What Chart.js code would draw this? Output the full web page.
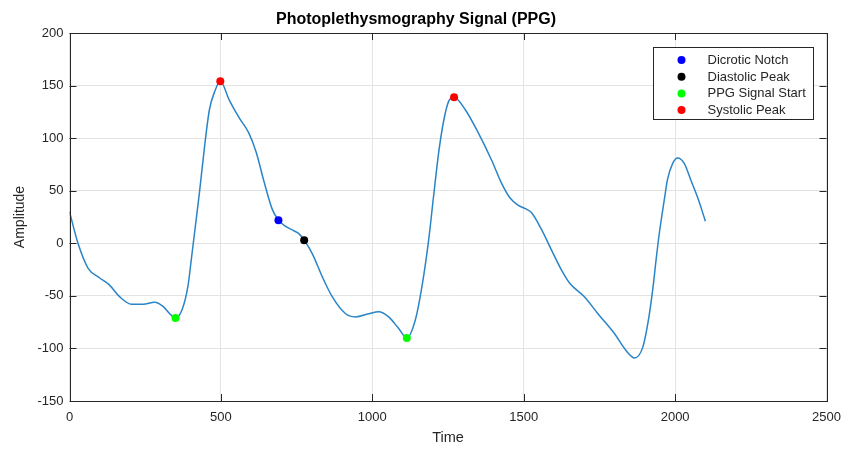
<!DOCTYPE html>
<html>
<head>
<meta charset="utf-8">
<title>PPG</title>
<script src="https://cdn.jsdelivr.net/npm/chart.js@4/dist/chart.umd.min.js"></script>
<style>
  body { margin: 0; background: #fff; }
  #wrap { width: 850px; height: 452px; }
</style>
</head>
<body>
<div id="wrap"><canvas id="ppg"></canvas></div>
<script>
// 信号数据
const signalTime = [0, 28, 62, 100, 133, 166, 205, 243, 281, 309, 331, 350, 372, 391, 402, 429, 446, 462, 479, 498,
    528, 561, 592, 616, 643, 670, 690, 714, 740, 758, 775, 802, 835, 868, 912, 945, 988, 1021, 1054, 1087, 1114,
    1142, 1164, 1186, 1202, 1219, 1236, 1252, 1270, 1307, 1350, 1394, 1427, 1455, 1482, 1505, 1526, 1559, 1591,
    1624, 1652, 1701, 1745, 1800, 1838, 1866, 1893, 1910, 1926, 1937, 1948, 1964, 1975, 1992, 2008, 2030, 2052, 2075, 2100];
const signalAmp = [30, 0, -24, -33, -40, -51, -58, -58, -56, -60, -67, -71, -63, -41, -16, 48, 92, 127, 144, 154,
    136, 119, 105, 87, 58, 32, 22, 16, 12, 9, 3, -10, -32, -51, -67, -70, -67, -65, -70, -81, -90,
    -73, -41, 3, 44, 86, 117, 135, 139, 127, 105, 79, 57, 43, 36, 33, 29, 13, -6,
    -25, -38, -51, -67, -86, -102, -109, -99, -76, -44, -16, 10, 41, 61, 76, 81, 76, 60, 43, 21];

// 特征点
const notchTime = [690];
const notchAmp = [22];
const diastolicTime = [775];
const diastolicAmp = [3];
const startTime = [350, 1114];
const startAmp = [-71, -90];
const systolicTime = [498, 1270];
const systolicAmp = [154, 139];

// 坐标轴范围
const xRange = [0, 2500, 500];
const yRange = [-150, 200, 50];

const FONT = '"Liberation Sans", Arial, Helvetica, sans-serif';
const INK = '#262626';

function toPoints(xs, ys) {
    return xs.map((x, i) => ({ x: x, y: ys[i] }));
}

function markerSet(label, xs, ys, color) {
    return {
        label: label,
        data: toPoints(xs, ys),
        showLine: false,
        pointRadius: 4,
        pointHoverRadius: 4,
        pointBackgroundColor: color,
        pointBorderColor: color,
        pointBorderWidth: 0,
        backgroundColor: color,
        borderColor: color
    };
}

// 边框、内向刻度、图例
const matlabAxes = {
    id: 'matlabAxes',
    afterDraw(chart) {
        const { ctx, chartArea: a, scales: { x, y } } = chart;
        ctx.save();
        ctx.strokeStyle = INK;
        ctx.lineWidth = 1;
        ctx.beginPath();
        x.ticks.forEach(t => {
            const px = Math.round(x.getPixelForValue(t.value)) + 0.5;
            ctx.moveTo(px, a.bottom); ctx.lineTo(px, a.bottom - 7);
            ctx.moveTo(px, a.top); ctx.lineTo(px, a.top + 7);
        });
        y.ticks.forEach(t => {
            const py = Math.round(y.getPixelForValue(t.value)) + 0.5;
            ctx.moveTo(a.left, py); ctx.lineTo(a.left + 7, py);
            ctx.moveTo(a.right, py); ctx.lineTo(a.right - 7, py);
        });
        ctx.stroke();
        ctx.strokeRect(Math.round(a.left) + 0.5, Math.round(a.top) + 0.5,
            Math.round(a.right - a.left), Math.round(a.bottom - a.top));

        // 图例
        const items = chart.data.datasets.slice(1);
        const bw = 160, rowH = 16.7;
        const bh = 72;
        const bx = Math.round(a.right - 14 - bw) + 0.5;
        const by = Math.round(a.top + 13.5) + 0.5;
        ctx.fillStyle = '#fff';
        ctx.fillRect(bx, by, bw, bh);
        ctx.strokeStyle = INK;
        ctx.strokeRect(bx, by, bw, bh);
        ctx.font = '13px ' + FONT;
        ctx.textBaseline = 'middle';
        ctx.textAlign = 'left';
        items.forEach((ds, i) => {
            const cy = by + 12.5 + i * rowH;
            ctx.fillStyle = ds.pointBackgroundColor;
            ctx.beginPath();
            ctx.arc(bx + 28, cy, 4, 0, Math.PI * 2);
            ctx.fill();
            ctx.fillStyle = INK;
            ctx.fillText(ds.label, bx + 54, cy + 0.5);
        });
        ctx.restore();
    }
};

const ctx = document.getElementById('ppg').getContext('2d');
new Chart(ctx, {
    type: 'scatter',
    data: {
        datasets: [
            {
                label: 'PPG',
                data: toPoints(signalTime, signalAmp),
                showLine: true,
                borderColor: '#2a84c8',
                borderWidth: 1.5,
                pointRadius: 0,
                pointHoverRadius: 0,
                cubicInterpolationMode: 'monotone',
                order: 5
            },
            markerSet('Dicrotic Notch', notchTime, notchAmp, '#0000FF'),
            markerSet('Diastolic Peak', diastolicTime, diastolicAmp, '#000000'),
            markerSet('PPG Signal Start', startTime, startAmp, '#00FF00'),
            markerSet('Systolic Peak', systolicTime, systolicAmp, '#FF0000')
        ]
    },
    options: {
        responsive: true,
        maintainAspectRatio: false,
        animation: false,
        layout: { padding: { left: 0, right: 18, top: 0, bottom: 0 } },
        plugins: {
            legend: { display: false },
            tooltip: { enabled: false },
            title: {
                display: true,
                text: 'Photoplethysmography Signal (PPG)',
                color: '#000',
                font: { family: FONT, size: 16, weight: 'bold', lineHeight: 1.2 },
                padding: { top: 9.5, bottom: 4.3 }
            }
        },
        scales: {
            x: {
                type: 'linear',
                min: xRange[0],
                max: xRange[1],
                afterFit: s => { s.height = 51; },
                ticks: { stepSize: xRange[2], color: INK, padding: 9, maxRotation: 0,
                    callback: v => String(v),
                    font: { family: FONT, size: 13 } },
                grid: { color: '#e3e3e3', drawTicks: false },
                border: { display: false },
                title: { display: true, text: 'Time', color: INK,
                    font: { family: FONT, size: 14.5 }, padding: { top: 0, bottom: 5.3 } }
            },
            y: {
                type: 'linear',
                min: yRange[0],
                max: yRange[1],
                afterFit: s => { s.width = 69.5; },
                ticks: { stepSize: yRange[2], color: INK, padding: 6,
                    callback: v => String(v),
                    font: { family: FONT, size: 13 } },
                grid: { color: '#e3e3e3', drawTicks: false },
                border: { display: false },
                title: { display: true, text: 'Amplitude', color: INK,
                    font: { family: FONT, size: 14 }, padding: { top: 11.6, bottom: 0 } }
            }
        }
    },
    plugins: [matlabAxes]
});
</script>
</body>
</html>
